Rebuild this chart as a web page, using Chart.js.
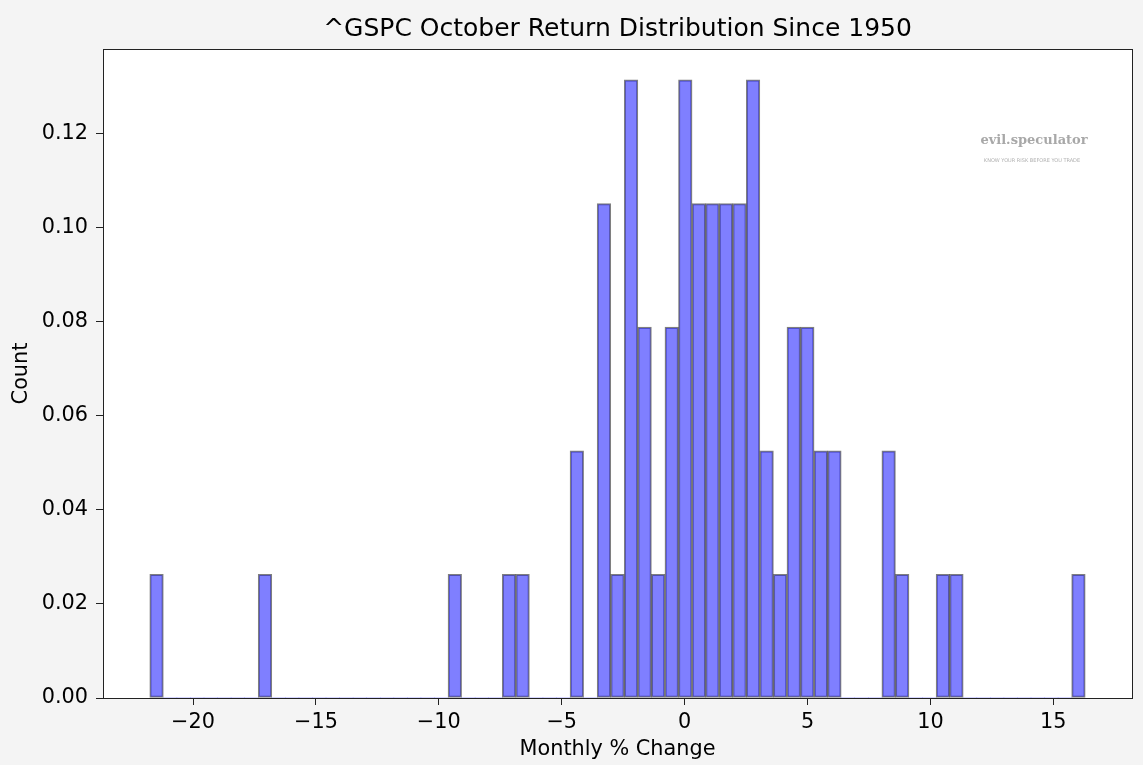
<!DOCTYPE html>
<html>
<head>
<meta charset="utf-8">
<script src="https://cdn.jsdelivr.net/npm/chart.js@4"></script>
<style>
  html, body { margin: 0; padding: 0; background: #f4f4f4; }
  #wrap { width: 1143px; height: 765px; }
</style>
</head>
<body>
<div id="wrap"><canvas id="c" width="1143" height="765"></canvas></div>
<script>
// ---- data ----
const dataMin = -21.76;          // smallest October return (%)
const dataMax = 16.30;           // largest October return (%)
const binCounts = [
  1,0,0,0,0,0,0,0,1,0,
  0,0,0,0,0,0,0,0,0,0,
  0,0,1,0,0,0,1,1,0,0,
  0,2,0,4,1,5,3,1,3,5,
  4,4,4,4,5,2,1,3,3,2,
  2,0,0,0,2,1,0,0,1,1,
  0,0,0,0,0,0,0,0,1
];
const xTickValues = [-20, -15, -10, -5, 0, 5, 10, 15];
const yTickValues = [0, 0.02, 0.04, 0.06, 0.08, 0.10, 0.12];
const titleText = '^GSPC October Return Distribution Since 1950';
const xLabel = 'Monthly % Change';
const yLabel = 'Count';

// ---- derived histogram table (density, as matplotlib density=True) ----
const nBins = binCounts.length;
const binWidth = (dataMax - dataMin) / nBins;
const total = binCounts.reduce((a, b) => a + b, 0);
const points = binCounts.map((c, i) => ({
  x: dataMin + (i + 0.5) * binWidth,
  y: c / (total * binWidth)
}));
const span = dataMax - dataMin;
const xMin = dataMin - 0.05 * span;
const xMax = dataMax + 0.05 * span;
const yMax = 1.05 * Math.max(...points.map(p => p.y));

const FONT = 'DejaVu Sans';
const fmtMinus = v => (v < 0 ? '\u2212' + Math.abs(v) : String(v));

const framePlugin = {
  id: 'frame',
  beforeDraw(chart) {
    const { ctx, chartArea: a } = chart;
    ctx.save();
    ctx.fillStyle = '#f4f4f4';
    ctx.fillRect(0, 0, chart.width, chart.height);
    ctx.fillStyle = '#ffffff';
    ctx.fillRect(a.left, a.top, a.right - a.left, a.bottom - a.top);
    ctx.restore();
  },
  afterDraw(chart) {
    const { ctx, chartArea: a } = chart;
    ctx.save();
    ctx.strokeStyle = '#222';
    ctx.lineWidth = 1;
    ctx.strokeRect(Math.round(a.left) + 0.5, Math.round(a.top) + 0.5,
                   Math.round(a.right - a.left), Math.round(a.bottom - a.top));
    // axes title, centred over the plot area
    ctx.fillStyle = '#000';
    ctx.textAlign = 'center';
    ctx.textBaseline = 'middle';
    ctx.font = '25px "DejaVu Sans"';
    ctx.fillText(titleText, (a.left + a.right) / 2, 29);
    // watermark text
    ctx.textBaseline = 'alphabetic';
    ctx.fillStyle = '#a8a8a8';
    ctx.font = 'bold 13px "DejaVu Serif"';
    ctx.fillText('evil.speculator', 1034, 144);
    ctx.font = '5px "DejaVu Sans"';
    ctx.fillStyle = '#b0b0b0';
    ctx.fillText('KNOW YOUR RISK BEFORE YOU TRADE', 1032, 162);
    ctx.restore();
  }
};

new Chart(document.getElementById('c'), {
  type: 'bar',
  data: {
    datasets: [{
      data: points,
      backgroundColor: 'rgba(0,0,255,0.5)',
      borderColor: 'rgba(0,0,0,0.5)',
      borderWidth: ctx => (ctx.raw && ctx.raw.y > 0 ? 1.3 : 0),
      barPercentage: 1,
      categoryPercentage: 1,
      borderSkipped: false
    }]
  },
  options: {
    responsive: false,
    animation: false,
    devicePixelRatio: 1,
    layout: { padding: { top: 49, right: 11, bottom: 0, left: 0 } },
    plugins: {
      legend: { display: false },
      tooltip: { enabled: false },
      title: { display: false }
    },
    scales: {
      x: {
        type: 'linear',
        offset: false,
        min: xMin,
        max: xMax,
        afterBuildTicks: s => { s.ticks = xTickValues.map(v => ({ value: v })); },
        afterFit: s => { s.height = 67; },
        grid: { display: true, offset: false, drawOnChartArea: false, drawTicks: true, tickLength: 7, tickColor: '#222', tickWidth: 1 },
        border: { display: true, color: '#222', width: 1 },
        ticks: {
          color: '#000',
          padding: 5,
          maxRotation: 0,
          autoSkip: false,
          font: { family: FONT, size: 20.8 },
          callback: v => fmtMinus(v)
        },
        title: {
          display: true,
          text: xLabel,
          color: '#000',
          font: { family: FONT, size: 20.8, lineHeight: 1.2 },
          padding: { top: 0, bottom: 2.5 }
        }
      },
      y: {
        min: 0,
        max: yMax,
        afterBuildTicks: s => { s.ticks = yTickValues.map(v => ({ value: v })); },
        afterFit: s => { s.width = 103; },
        grid: { display: true, offset: false, drawOnChartArea: false, drawTicks: true, tickLength: 7, tickColor: '#222', tickWidth: 1 },
        border: { display: true, color: '#222', width: 1 },
        ticks: {
          color: '#000',
          padding: 8,
          autoSkip: false,
          font: { family: FONT, size: 20.8 },
          callback: v => Number(v).toFixed(2)
        },
        title: {
          display: true,
          text: yLabel,
          color: '#000',
          font: { family: FONT, size: 20.8, lineHeight: 1.2 },
          padding: { top: 9, bottom: 0 }
        }
      }
    }
  },
  plugins: [framePlugin]
});
</script>
</body>
</html>
